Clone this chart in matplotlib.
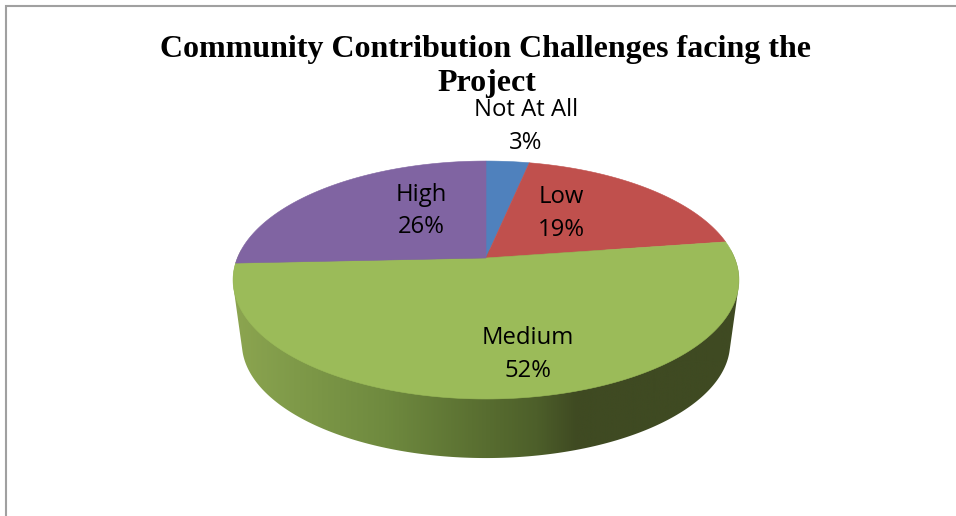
import matplotlib
matplotlib.use('Agg')
import matplotlib.pyplot as plt
import numpy as np
from matplotlib.colors import LinearSegmentedColormap
from matplotlib.patches import Polygon

# chart values, shown rounded on the labels
labels = ['Not At All', 'Low', 'Medium', 'High']
percents = [3.3, 19.4, 51.6, 25.7]
colors = ['#4f81bd', '#c0504d', '#9bbb59', '#8064a2']
title_lines = ['Community Contribution Challenges facing the', 'Project']

# side wall shading, left to right
wall_stops = [0.0, 0.12, 0.3, 0.5, 0.6, 0.68, 1.0]
wall_colors = ['#8ca550', '#7f9a49', '#6f8a3f', '#586d30', '#4d5f2a', '#3f4a22', '#3f4a22']

# where the labels sit (px)
label_pos = [(526, 110, 143), (561, 197, 230), (528, 338, 371), (421, 195, 227)]

# pie in perspective (px)
CX = 486
TOP_Y = 258
BOTTOM_Y = 322
A = 248.6
B = 114.9
K = 0.185
BOTTOM_SCALE = 0.965


def project(theta, cy, scale=1.0):
    # theta clockwise from the top of the pie, perspective foreshortens the back
    u = np.sin(theta)
    v = np.cos(theta)
    w = 1 + K * v
    return CX + scale * A * u / w, cy - scale * B * v / w


def hull(pts):
    pts = sorted(set(pts))
    def half(seq):
        out = []
        for p in seq:
            while len(out) > 1 and ((out[-1][0] - out[-2][0]) * (p[1] - out[-2][1])
                                    - (out[-1][1] - out[-2][1]) * (p[0] - out[-2][0])) <= 0:
                out.pop()
            out.append(p)
        return out
    return half(pts)[:-1] + half(pts[::-1])[:-1]


fig = plt.figure(figsize=(9.56, 5.16), dpi=100)
ax = fig.add_axes([0, 0, 1, 1])

# side wall
t = np.linspace(0, 2 * np.pi, 720)
x1, y1 = project(t, TOP_Y)
x2, y2 = project(t, BOTTOM_Y, BOTTOM_SCALE)
outline = hull(list(zip(x1, y1)) + list(zip(x2, y2)))
cmap = LinearSegmentedColormap.from_list('wall', list(zip(wall_stops, wall_colors)))
grad = np.linspace(0, 1, 512).reshape(1, -1)
im = ax.imshow(grad, cmap=cmap, extent=(233, 739, 470, 250), aspect='auto', zorder=1)
clip = Polygon(outline, closed=True, transform=ax.transData, fc='none', ec='none')
ax.add_patch(clip)
im.set_clip_path(clip)

# top surface, one wedge per value
edges = np.cumsum([0] + percents) / sum(percents) * 2 * np.pi
for i in range(len(percents)):
    th = np.linspace(edges[i], edges[i + 1], 200)
    x, y = project(th, TOP_Y)
    ax.fill(np.r_[CX, x], np.r_[TOP_Y, y], color=colors[i], lw=0.4, zorder=2)

# labels
for i in range(len(labels)):
    px, y_name, y_pct = label_pos[i]
    ax.text(px, y_name, labels[i], family='Open Sans', fontsize=17.2, color='black',
            ha='center', va='center', zorder=4)
    ax.text(px, y_pct, str(round(percents[i])) + '%', family='Open Sans', fontsize=17.2,
            color='black', ha='center', va='center', zorder=4)

# title
ax.text(486, 49, title_lines[0], family='Liberation Serif', weight='bold', fontsize=23,
        ha='center', va='center', zorder=3)
ax.text(487, 84, title_lines[1], family='Liberation Serif', weight='bold', fontsize=23,
        ha='center', va='center', zorder=3)

# frame of the page
ax.plot([6.5, 6.5, 956], [516, 5.5, 5.5], color='#a0a0a0', lw=1.5, solid_joinstyle='miter', zorder=5)

ax.set_xlim(0, 956)
ax.set_ylim(516, 0)
ax.axis('off')
fig.savefig('out.png', dpi=100)
